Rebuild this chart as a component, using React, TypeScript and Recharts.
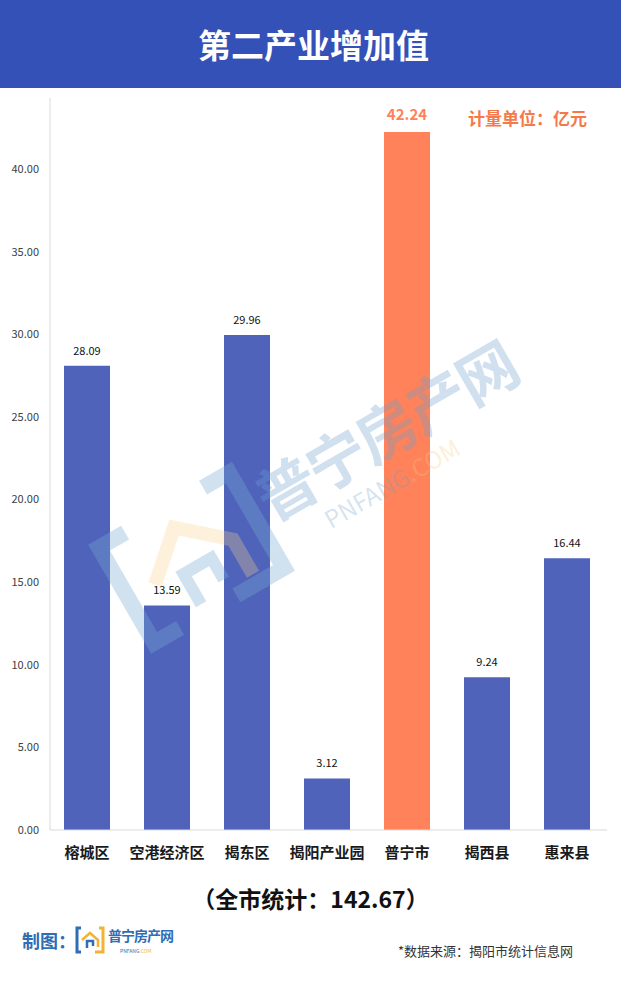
import React from "react"
import { Bar, BarChart, Cell, LabelList, XAxis, YAxis } from "recharts"

const districts = ["榕城区", "空港经济区", "揭东区", "揭阳产业园", "普宁市", "揭西县", "惠来县"]
const values = [28.09, 13.59, 29.96, 3.12, 42.24, 9.24, 16.44]
const highlight = "普宁市"
const yTicks = [0, 5, 10, 15, 20, 25, 30, 35, 40]

const BLUE = "#4F63BB"
const ORANGE = "#FF825A"
const FONT = "'Noto Sans CJK SC', 'Noto Sans', sans-serif"

const data = districts.map((name, i) => ({ name, value: values[i] }))

const renderLabel = (props: any) => {
  const { x, y, width, value, index } = props
  const hot = districts[index] === highlight
  return (
    <text
      x={x + width / 2}
      y={y - (hot ? 12 : 11)}
      textAnchor="middle"
      fontFamily={FONT}
      fontSize={hot ? 15 : 11}
      fontWeight={hot ? 700 : 400}
      fill={hot ? ORANGE : "#111"}
    >
      {Number(value).toFixed(2)}
    </text>
  )
}

function Watermark() {
  return (
    <svg width={621} height={983} style={{ position: "absolute", left: 0, top: 0, pointerEvents: "none" }}>
      <g transform="translate(-35 -45) rotate(-30 300 520)" fontFamily={FONT}>
        {/* logo frame */}
        <path d="M150 500 L120 500 L120 610 L150 610" fill="none" stroke="rgba(120,170,210,0.35)" strokeWidth={16} />
        <path d="M240 500 L270 500 L270 610 L215 610" fill="none" stroke="rgba(120,170,210,0.35)" strokeWidth={16} />
        <path d="M150 560 L195 520 L240 560 L240 600" fill="none" stroke="rgba(250,210,140,0.3)" strokeWidth={14} />
        <path d="M180 600 L180 565 L212 565 L212 590" fill="none" stroke="rgba(120,170,210,0.35)" strokeWidth={12} />
        <text x={282} y={565} fontSize={60} fontWeight={700} fill="rgba(110,160,205,0.32)" letterSpacing={-2}>
          普宁房产网
        </text>
        <text x={330} y={600} fontSize={24} fill="rgba(110,160,205,0.3)">
          PNFANG
          <tspan fill="rgba(250,200,120,0.3)">.COM</tspan>
        </text>
      </g>
    </svg>
  )
}

function FooterLogo() {
  return (
    <svg width={110} height={30} style={{ position: "absolute", left: 75, top: 925 }}>
      <path d="M6 3 L2 3 L2 27 L6 27" fill="none" stroke="#2F6DB5" strokeWidth={3} />
      <path d="M24 3 L28 3 L28 27 L20 27" fill="none" stroke="#F2B233" strokeWidth={3} />
      <path d="M7 15 L15 8 L23 15 L23 22" fill="none" stroke="#F2B233" strokeWidth={2.5} />
      <path d="M12 23 L12 16 L18 16 L18 21" fill="none" stroke="#2F6DB5" strokeWidth={2.5} />
      <text x={33} y={16} fontFamily={FONT} fontSize={14} fontWeight={700} fill="#2F6DB5" letterSpacing={-1}>
        普宁房产网
      </text>
      <text x={45} y={28} fontFamily={FONT} fontSize={5} fill="#2F6DB5">
        PNFANG<tspan fill="#F2B233">.COM</tspan>
      </text>
    </svg>
  )
}

export default function App() {
  return (
    <div style={{ position: "absolute", left: 0, top: 0, width: 621, height: 983, background: "#fff", fontFamily: FONT, overflow: "hidden" }}>
      <div
        style={{
          position: "absolute", left: 0, top: 0, width: 621, height: 88, background: "#3451B8",
          color: "#fff", fontSize: 33, fontWeight: 700, textAlign: "center", lineHeight: "88px", paddingLeft: 6, boxSizing: "border-box",
        }}
      >
        第二产业增加值
      </div>

      <div style={{ position: "absolute", left: 0, top: 88 }}>
        <BarChart width={621} height={792} data={data} margin={{ top: 10, right: 14, left: 0, bottom: 0 }} barSize={46}>
          <YAxis
            width={50}
            domain={[0, 44.3]}
            ticks={yTicks}
            tickFormatter={(v: number) => v.toFixed(2)}
            tick={{ fontSize: 11, fill: "#404040", fontFamily: FONT }}
            tickLine={false}
            tickSize={0}
            tickMargin={11}
            axisLine={{ stroke: "#d9d9d9" }}
          />
          <XAxis
            dataKey="name"
            height={50}
            padding={{ left: -3, right: 0 }}
            tick={{ fontSize: 15, fill: "#1a1a1a", fontWeight: 700, fontFamily: FONT }}
            tickLine={false}
            tickSize={0}
            tickMargin={17}
            axisLine={{ stroke: "#d9d9d9" }}
            interval={0}
          />
          <Bar dataKey="value" isAnimationActive={false}>
            {data.map((d) => (
              <Cell key={d.name} fill={d.name === highlight ? ORANGE : BLUE} />
            ))}
            <LabelList dataKey="value" content={renderLabel} />
          </Bar>
        </BarChart>
      </div>

      <div style={{ position: "absolute", left: 468, top: 105, color: "#F47A4C", fontSize: 17, fontWeight: 700 }}>
        计量单位：亿元
      </div>

      <Watermark />

      <div style={{ position: "absolute", left: 0, top: 881, width: 621, textAlign: "center", fontSize: 23, fontWeight: 700, color: "#111" }}>
        （全市统计：142.67）
      </div>

      <div style={{ position: "absolute", left: 22, top: 927, color: "#2F6DB5", fontSize: 18, fontWeight: 700 }}>
        制图：
      </div>
      <FooterLogo />

      <div style={{ position: "absolute", left: 398, top: 941, color: "#333", fontSize: 13 }}>
        *数据来源：揭阳市统计信息网
      </div>
    </div>
  )
}
